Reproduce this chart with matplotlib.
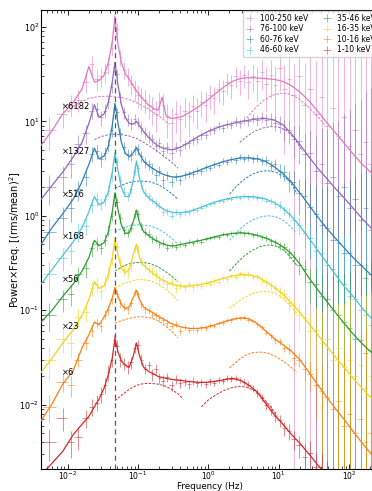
import numpy as np
import matplotlib
matplotlib.use('Agg')
import matplotlib.pyplot as plt

# ---------------- data ----------------
bands = ['100-250 keV', '76-100 keV', '60-76 keV', '46-60 keV',
         '35-46 keV', '16-35 keV', '10-16 keV', '1-10 keV']
factors = [6182, 1327, 516, 168, 56, 23, 6, 1]
colors = ['#e377c2', '#9467bd', '#2f7fb8', '#4fc3dc',
          '#2ca02c', '#f2d418', '#ff7f0e', '#d62728']
qpo_freq = 0.047

data_freq = [0.0055, 0.0085, 0.011, 0.014, 0.018, 0.022, 0.026, 0.030, 0.034, 0.038,
             0.042, 0.046, 0.050, 0.056, 0.063, 0.071, 0.080, 0.090, 0.100, 0.112,
             0.126, 0.142, 0.160, 0.180, 0.200, 0.230, 0.260, 0.300, 0.350, 0.400,
             0.460, 0.530, 0.610, 0.700, 0.800, 0.920, 1.06, 1.22, 1.40, 1.60,
             1.85, 2.10, 2.45, 2.80, 3.20, 3.70, 4.30, 5.00, 5.80, 6.70,
             7.70, 8.90, 10.3, 12.0, 14.0, 16.5, 19.5, 23.5, 28, 34,
             41, 49, 59, 71, 85, 102, 122, 147, 176, 205]

model_freq = [0.0042, 0.006, 0.0085, 0.012, 0.016, 0.02, 0.024, 0.028, 0.033, 0.038,
              0.043, 0.047, 0.052, 0.058, 0.066, 0.075, 0.085, 0.095, 0.105, 0.12,
              0.14, 0.17, 0.195, 0.22, 0.25, 0.29, 0.33, 0.42, 0.55, 0.72,
              0.95, 1.25, 1.65, 2.2, 2.9, 3.8, 5.0, 6.6, 8.7, 11.5,
              15, 20, 27, 36, 48, 64, 85, 115, 155, 215, 300]

# plotted (already multiplied by the factor) values
pink_data = [8, 12, 15, 17, 26, 40, 28, 30, 33, 40,
             60, 120, 95, 48, 35, 30, 25, 22, 19, 18,
             17, 15, 13.5, 12, 16, 15, 11, 9.5, 12, 10.5,
             13, 11.5, 14.5, 13, 16, 15, 19, 17.5, 22, 21,
             26, 24, 30, 27, 31, 26, 30, 27, 33, 25,
             31, 24, 37, 22, 28, 19, 30, 15, 22, 12,
             18, 9, 14, 7, 11, 5.5, 8, 4.5, 6, 3.5]
pink_err = [3, 3.5, 4, 4.5, 6, 9, 7, 7, 7.5, 8.5,
            11, 18, 15, 9, 7, 6.5, 6, 5.5, 5, 4.8,
            4.6, 4.5, 4.4, 4.3, 4.4, 4.4, 4.3, 4.3, 4.4, 4.4,
            4.5, 4.6, 4.7, 4.8, 5, 5.2, 5.4, 5.6, 5.9, 6.2,
            6.5, 6.9, 7.3, 7.8, 8.3, 8.9, 9.6, 10.4, 11.3, 12.3,
            13.4, 14.6, 16, 17.5, 19, 21, 23, 26, 29, 32,
            36, 40, 45, 50, 56, 62, 70, 78, 87, 97]
purple_data = [2.0, 2.6, 3.5, 5.8, 7.5, 13, 13.5, 11, 13, 16,
               23, 38, 32, 18, 12.5, 10.5, 9.5, 10.5, 9.8, 8.5,
               7.6, 6.9, 6.5, 5.5, 5.9, 4.9, 5.3, 4.6, 5.4, 5.0,
               5.7, 5.9, 6.3, 6.5, 7.1, 7.2, 8.0, 8.1, 8.9, 8.6,
               9.4, 9.2, 10.0, 9.6, 10.4, 10.0, 10.8, 10.3, 11.2, 10.4,
               10.6, 9.6, 9.4, 8.3, 8.0, 6.5, 6.2, 4.5, 4.6, 3.0,
               3.5, 2.2, 2.6, 1.6, 2.0, 1.2, 1.5, 0.9, 1.2, 0.7]
purple_err = [0.7, 0.8, 1.0, 1.4, 1.7, 2.5, 2.5, 2.0, 2.2, 2.5,
              3, 4.5, 4, 2.5, 1.8, 1.5, 1.4, 1.4, 1.3, 1.2,
              1.05, 0.95, 0.9, 0.8, 0.78, 0.72, 0.7, 0.68, 0.67, 0.66,
              0.66, 0.66, 0.67, 0.68, 0.7, 0.72, 0.75, 0.78, 0.82, 0.86,
              0.9, 0.95, 1.0, 1.05, 1.1, 1.17, 1.25, 1.33, 1.42, 1.52,
              1.63, 1.75, 1.9, 2.05, 2.2, 2.4, 2.65, 2.9, 3.3, 4.0,
              5, 6, 7, 8.5, 10, 12, 14, 16, 19, 22]
blue_data = [0.68, 0.95, 1.2, 1.9, 2.6, 4.5, 4.8, 4.0, 4.6, 5.6,
             8.0, 14, 12.5, 7.5, 5.3, 4.5, 4.4, 5.0, 5.1, 4.3,
             3.7, 3.5, 3.2, 2.7, 3.0, 2.4, 2.7, 2.3, 2.6, 2.4,
             2.7, 2.75, 2.8, 3.0, 2.95, 3.25, 3.2, 3.5, 3.45, 3.8,
             3.7, 4.0, 3.85, 4.2, 4.0, 4.15, 3.95, 4.1, 3.8, 3.85,
             3.4, 3.5, 3.0, 2.9, 2.4, 2.3, 1.75, 1.6, 1.25, 1.05,
             0.8, 0.75, 0.55, 0.52, 0.4, 0.4, 0.3, 0.3, 0.22, 0.24]
blue_err = [0.25, 0.3, 0.35, 0.45, 0.55, 0.8, 0.8, 0.7, 0.75, 0.85,
            1.1, 1.6, 1.5, 1.0, 0.75, 0.6, 0.6, 0.65, 0.65, 0.55,
            0.48, 0.43, 0.4, 0.36, 0.34, 0.31, 0.3, 0.28, 0.27, 0.26,
            0.25, 0.25, 0.25, 0.25, 0.25, 0.25, 0.25, 0.26, 0.26, 0.27,
            0.28, 0.29, 0.3, 0.31, 0.32, 0.33, 0.35, 0.37, 0.39, 0.41,
            0.44, 0.47, 0.5, 0.55, 0.6, 0.65, 0.72, 0.8, 0.9, 1.0,
            1.15, 1.3, 1.45, 1.6, 1.8, 2.0, 2.2, 2.5, 2.8, 3.1]
cyan_data = [0.24, 0.36, 0.42, 0.68, 0.78, 1.3, 1.5, 1.35, 1.5, 1.85,
             2.6, 4.3, 3.8, 2.4, 1.8, 1.6, 1.9, 3.0, 3.2, 2.1,
             1.75, 1.6, 1.45, 1.35, 1.28, 1.1, 1.12, 1.0, 1.1, 1.04,
             1.1, 1.09, 1.16, 1.15, 1.22, 1.27, 1.33, 1.36, 1.45, 1.45,
             1.52, 1.5, 1.58, 1.55, 1.62, 1.57, 1.6, 1.55, 1.53, 1.45,
             1.43, 1.33, 1.3, 1.15, 1.08, 0.9, 0.8, 0.65, 0.58, 0.42,
             0.4, 0.3, 0.27, 0.2, 0.19, 0.14, 0.13, 0.1, 0.09, 0.07]
cyan_err = [0.08, 0.1, 0.11, 0.15, 0.16, 0.22, 0.24, 0.2, 0.22, 0.25,
            0.3, 0.4, 0.38, 0.28, 0.2, 0.18, 0.2, 0.28, 0.3, 0.2,
            0.17, 0.15, 0.13, 0.12, 0.11, 0.1, 0.09, 0.085, 0.08, 0.075,
            0.07, 0.07, 0.07, 0.07, 0.07, 0.07, 0.07, 0.07, 0.07, 0.072,
            0.073, 0.075, 0.077, 0.08, 0.082, 0.085, 0.088, 0.092, 0.096, 0.1,
            0.105, 0.11, 0.12, 0.13, 0.14, 0.155, 0.17, 0.19, 0.21, 0.24,
            0.27, 0.3, 0.34, 0.38, 0.43, 0.48, 0.54, 0.6, 0.68, 0.75]
green_data = [0.09, 0.13, 0.15, 0.24, 0.28, 0.45, 0.5, 0.46, 0.56, 0.7,
              1.0, 1.6, 1.4, 0.95, 0.7, 0.66, 0.75, 1.05, 1.05, 0.78,
              0.68, 0.64, 0.57, 0.56, 0.5, 0.52, 0.46, 0.49, 0.47, 0.5,
              0.49, 0.53, 0.51, 0.55, 0.53, 0.57, 0.58, 0.6, 0.6, 0.64,
              0.63, 0.66, 0.65, 0.67, 0.65, 0.66, 0.62, 0.63, 0.59, 0.58,
              0.54, 0.53, 0.48, 0.47, 0.4, 0.37, 0.3, 0.27, 0.2, 0.19,
              0.14, 0.13, 0.1, 0.09, 0.075, 0.065, 0.05, 0.048, 0.035, 0.038]
green_err = [0.03, 0.035, 0.04, 0.05, 0.06, 0.08, 0.08, 0.07, 0.08, 0.09,
             0.12, 0.16, 0.15, 0.11, 0.08, 0.07, 0.08, 0.1, 0.1, 0.08,
             0.07, 0.06, 0.055, 0.05, 0.045, 0.045, 0.04, 0.04, 0.035, 0.035,
             0.033, 0.032, 0.031, 0.03, 0.03, 0.03, 0.03, 0.03, 0.03, 0.03,
             0.03, 0.031, 0.031, 0.032, 0.033, 0.034, 0.035, 0.036, 0.037, 0.038,
             0.04, 0.042, 0.045, 0.048, 0.052, 0.057, 0.063, 0.07, 0.08, 0.09,
             0.1, 0.12, 0.13, 0.15, 0.17, 0.19, 0.21, 0.24, 0.27, 0.3]
yellow_data = [0.03, 0.05, 0.045, 0.085, 0.095, 0.17, 0.19, 0.16, 0.2, 0.25,
               0.35, 0.52, 0.47, 0.32, 0.27, 0.25, 0.3, 0.45, 0.44, 0.33,
               0.3, 0.27, 0.26, 0.24, 0.21, 0.21, 0.19, 0.2, 0.17, 0.185,
               0.175, 0.19, 0.176, 0.185, 0.18, 0.196, 0.19, 0.205, 0.2, 0.22,
               0.215, 0.235, 0.225, 0.245, 0.235, 0.242, 0.225, 0.23, 0.205, 0.2,
               0.18, 0.17, 0.155, 0.148, 0.12, 0.113, 0.088, 0.083, 0.06, 0.062,
               0.045, 0.05, 0.03, 0.04, 0.025, 0.03, 0.02, 0.026, 0.015, 0.02]
yellow_err = [0.012, 0.015, 0.014, 0.02, 0.02, 0.03, 0.035, 0.03, 0.035, 0.04,
              0.05, 0.06, 0.06, 0.045, 0.04, 0.035, 0.04, 0.05, 0.05, 0.04,
              0.035, 0.03, 0.03, 0.027, 0.025, 0.023, 0.021, 0.02, 0.018, 0.017,
              0.016, 0.015, 0.015, 0.014, 0.014, 0.014, 0.014, 0.014, 0.014, 0.014,
              0.014, 0.015, 0.015, 0.015, 0.015, 0.016, 0.016, 0.017, 0.017, 0.018,
              0.018, 0.019, 0.02, 0.021, 0.023, 0.025, 0.028, 0.032, 0.037, 0.043,
              0.05, 0.06, 0.07, 0.08, 0.09, 0.1, 0.11, 0.12, 0.13, 0.14]
orange_data = [0.0095, 0.0175, 0.016, 0.03, 0.045, 0.06, 0.074, 0.068, 0.09, 0.1,
               0.13, 0.165, 0.15, 0.118, 0.108, 0.102, 0.118, 0.155, 0.148, 0.115,
               0.103, 0.1, 0.09, 0.089, 0.082, 0.079, 0.074, 0.068, 0.071, 0.06,
               0.066, 0.062, 0.065, 0.062, 0.066, 0.064, 0.069, 0.068, 0.073, 0.074,
               0.079, 0.078, 0.083, 0.082, 0.085, 0.079, 0.077, 0.071, 0.066, 0.058,
               0.054, 0.048, 0.047, 0.04, 0.039, 0.031, 0.03, 0.024, 0.021, 0.016,
               0.014, 0.012, 0.009, 0.011, 0.006, 0.008, 0.005, 0.007, 0.004, 0.005]
orange_err = [0.003, 0.004, 0.004, 0.005, 0.007, 0.008, 0.009, 0.009, 0.01, 0.011,
              0.013, 0.015, 0.014, 0.012, 0.011, 0.01, 0.011, 0.013, 0.013, 0.01,
              0.009, 0.008, 0.008, 0.007, 0.007, 0.006, 0.006, 0.0055, 0.005, 0.005,
              0.005, 0.0045, 0.0045, 0.004, 0.004, 0.004, 0.004, 0.004, 0.004, 0.004,
              0.004, 0.004, 0.004, 0.004, 0.004, 0.004, 0.004, 0.004, 0.004, 0.004,
              0.004, 0.004, 0.004, 0.004, 0.0045, 0.005, 0.005, 0.006, 0.007, 0.009,
              0.012, 0.016, 0.02, 0.025, 0.03, 0.036, 0.043, 0.05, 0.06, 0.07]
red_data = [0.004, 0.0073, 0.004, 0.0045, 0.0072, 0.0095, 0.0105, 0.013, 0.016, 0.022,
            0.03, 0.048, 0.042, 0.03, 0.027, 0.025, 0.028, 0.04, 0.043, 0.03,
            0.024, 0.026, 0.021, 0.024, 0.019, 0.018, 0.0195, 0.016, 0.0185, 0.017,
            0.0175, 0.0165, 0.018, 0.0168, 0.0172, 0.0165, 0.0178, 0.017, 0.0182, 0.0178,
            0.019, 0.0188, 0.0192, 0.0183, 0.0175, 0.0163, 0.0148, 0.0133, 0.0118, 0.0098,
            0.0088, 0.0076, 0.0068, 0.0056, 0.0052, 0.0043, 0.0037, 0.0028, 0.0031, 0.0022,
            0.0021, 0.0016, 0.0012, 0.001, 0.0009, 0.0008, 0.0007, 0.0006, 0.0005, 0.0004]
red_err = [0.0015, 0.002, 0.0013, 0.0012, 0.0015, 0.002, 0.002, 0.0025, 0.003, 0.004,
           0.005, 0.006, 0.006, 0.005, 0.004, 0.004, 0.004, 0.005, 0.005, 0.004,
           0.003, 0.003, 0.003, 0.003, 0.0025, 0.0025, 0.0022, 0.002, 0.002, 0.002,
           0.0018, 0.0017, 0.0017, 0.0016, 0.0015, 0.0015, 0.0015, 0.0014, 0.0014, 0.0014,
           0.0014, 0.0014, 0.0014, 0.0013, 0.0013, 0.0013, 0.0012, 0.0012, 0.0011, 0.0011,
           0.001, 0.001, 0.001, 0.001, 0.001, 0.001, 0.001, 0.001, 0.001, 0.0009,
           0.0009, 0.0009, 0.001, 0.001, 0.001, 0.001, 0.001, 0.001, 0.001, 0.001]

pink_model = [5.6, 8.0, 12, 16, 22, 38, 26, 27, 31, 42,
              70, 128, 65, 42, 32, 28, 24, 21, 19, 17,
              15, 13.5, 13.2, 18, 11.5, 10.8, 10.8, 11.2, 12.5, 14.2,
              16.5, 19.5, 23, 26.5, 28.5, 29, 28.8, 28.3, 27.8, 26.5,
              24, 20.5, 16.5, 12.8, 9.8, 7.6, 5.9, 4.5, 3.5, 2.8, 2.05]
purple_model = [1.5, 2.1, 2.9, 4.2, 6.0, 9.5, 15, 11, 12, 16,
                26, 42, 24, 15, 11, 9.5, 9.3, 10, 9, 7.8,
                6.8, 5.9, 5.5, 5.25, 5.1, 5.0, 5.05, 5.4, 6.1, 6.9,
                7.7, 8.4, 9.0, 9.5, 9.9, 10.3, 10.6, 10.7, 10.3, 9.2,
                7.5, 5.7, 4.2, 3.2, 2.5, 1.95, 1.55, 1.2, 0.93, 0.72, 0.55]
blue_model = [0.5, 0.75, 1.05, 1.5, 2.3, 3.5, 5.2, 4.0, 4.3, 5.5,
              9.0, 15.5, 9.5, 6.0, 4.6, 4.2, 4.6, 5.3, 4.5, 3.8,
              3.4, 3.1, 2.9, 2.78, 2.68, 2.6, 2.57, 2.62, 2.8, 3.0,
              3.25, 3.5, 3.75, 3.95, 4.1, 4.1, 4.0, 3.75, 3.3, 2.8,
              2.3, 1.75, 1.3, 0.97, 0.74, 0.58, 0.46, 0.36, 0.29, 0.23, 0.18]
cyan_model = [0.19, 0.27, 0.38, 0.53, 0.75, 1.1, 1.6, 1.3, 1.4, 1.8,
              2.9, 4.6, 3.0, 2.0, 1.6, 1.6, 2.3, 3.8, 2.5, 1.8,
              1.55, 1.4, 1.28, 1.2, 1.14, 1.1, 1.08, 1.08, 1.12, 1.2,
              1.3, 1.4, 1.48, 1.55, 1.59, 1.6, 1.57, 1.5, 1.38, 1.2,
              1.0, 0.78, 0.58, 0.43, 0.32, 0.24, 0.18, 0.14, 0.105, 0.08, 0.06]
green_model = [0.075, 0.1, 0.14, 0.19, 0.26, 0.36, 0.55, 0.48, 0.52, 0.68,
               1.1, 1.75, 1.15, 0.8, 0.65, 0.66, 0.85, 1.15, 0.85, 0.68,
               0.62, 0.56, 0.53, 0.51, 0.49, 0.48, 0.48, 0.5, 0.52, 0.54,
               0.57, 0.6, 0.63, 0.65, 0.66, 0.65, 0.62, 0.58, 0.53, 0.47,
               0.4, 0.31, 0.22, 0.165, 0.125, 0.095, 0.073, 0.056, 0.044, 0.035, 0.027]
yellow_model = [0.022, 0.031, 0.045, 0.062, 0.088, 0.13, 0.2, 0.17, 0.18, 0.24,
                0.36, 0.56, 0.38, 0.28, 0.25, 0.27, 0.38, 0.5, 0.36, 0.3,
                0.27, 0.24, 0.222, 0.21, 0.2, 0.19, 0.185, 0.18, 0.18, 0.185,
                0.193, 0.205, 0.218, 0.23, 0.238, 0.237, 0.225, 0.2, 0.175, 0.148,
                0.12, 0.095, 0.072, 0.055, 0.042, 0.032, 0.025, 0.019, 0.0148, 0.0115, 0.009]
orange_model = [0.0068, 0.0102, 0.0165, 0.023, 0.04, 0.055, 0.075, 0.07, 0.085, 0.105,
                0.135, 0.172, 0.14, 0.115, 0.104, 0.108, 0.135, 0.163, 0.13, 0.108,
                0.1, 0.092, 0.086, 0.082, 0.078, 0.073, 0.07, 0.066, 0.064, 0.064,
                0.066, 0.07, 0.075, 0.08, 0.083, 0.081, 0.072, 0.06, 0.05, 0.043,
                0.037, 0.03, 0.022, 0.0162, 0.0121, 0.0091, 0.007, 0.0052, 0.0039, 0.0029, 0.0021]
red_model = [0.0018, 0.0024, 0.0032, 0.0048, 0.0062, 0.0075, 0.0095, 0.0115, 0.015, 0.021,
             0.031, 0.05, 0.036, 0.029, 0.026, 0.025, 0.032, 0.045, 0.033, 0.025,
             0.0225, 0.021, 0.0198, 0.0194, 0.019, 0.0186, 0.0183, 0.018, 0.0175, 0.0172,
             0.0172, 0.0176, 0.0183, 0.019, 0.018, 0.016, 0.0135, 0.0102, 0.0078, 0.0062,
             0.0049, 0.0039, 0.003, 0.0023, 0.0018, 0.0014, 0.0011, 0.0008, 0.0006, 0.00045, 0.00033]

# broad components (dashed)
pink_c1_freq = [0.01, 0.014, 0.02, 0.028, 0.04, 0.055, 0.075, 0.1, 0.14, 0.2, 0.28]
pink_c1 = [12.5, 15.5, 17.5, 18.3, 18.5, 18, 17, 15.5, 13.5, 11.3, 9.3]
pink_c2_freq = [3.5, 4.5, 6, 8, 10.5, 14, 19, 25, 33, 45]
pink_c2 = [10.8, 13.5, 16.5, 18.8, 19.8, 19.5, 17.5, 14.8, 12, 9.3]
purple_c1_freq = [0.024, 0.03, 0.038, 0.047, 0.06, 0.075, 0.095, 0.12, 0.15, 0.19, 0.24, 0.3, 0.37]
purple_c1 = [6.4, 6.9, 7.2, 7.3, 7.2, 7.0, 6.6, 6.0, 5.4, 4.8, 4.2, 3.7, 3.2]
purple_c2_freq = [2.8, 3.6, 4.6, 6, 7.7, 10, 13, 17, 22]
purple_c2 = [6.0, 7.0, 7.9, 8.5, 8.8, 8.7, 8.0, 6.5, 4.8]
mid_c1_freq = [0.047, 0.06, 0.075, 0.095, 0.12, 0.15, 0.19, 0.24, 0.3, 0.37]
mid_c2_freq = [2.0, 2.6, 3.3, 4.2, 5.4, 7.0, 9.0, 11.5, 14.5, 18]
blue_c1 = [1.95, 2.12, 2.25, 2.32, 2.33, 2.28, 2.15, 1.95, 1.72, 1.5]
blue_c2 = [1.7, 2.1, 2.45, 2.75, 2.95, 3.0, 2.9, 2.65, 2.3, 1.75]
cyan_c1 = [0.68, 0.74, 0.78, 0.8, 0.8, 0.78, 0.73, 0.66, 0.58, 0.5]
cyan_c2 = [0.55, 0.68, 0.8, 0.9, 0.97, 1.0, 0.98, 0.9, 0.78, 0.65]
green_c1 = [0.26, 0.29, 0.31, 0.32, 0.32, 0.31, 0.29, 0.26, 0.23, 0.2]
green_c2 = [0.26, 0.32, 0.38, 0.43, 0.47, 0.49, 0.48, 0.44, 0.37, 0.3]
yellow_c1 = [0.17, 0.19, 0.2, 0.21, 0.21, 0.205, 0.19, 0.17, 0.148, 0.127]
yellow_c2 = [0.105, 0.122, 0.137, 0.15, 0.157, 0.158, 0.15, 0.135, 0.113, 0.093]
orange_c1 = [0.073, 0.078, 0.082, 0.085, 0.085, 0.083, 0.078, 0.069, 0.06, 0.051]
orange_c2 = [0.0245, 0.029, 0.033, 0.0355, 0.036, 0.0352, 0.0325, 0.029, 0.0255, 0.022]
red_c1_freq = [0.047, 0.06, 0.075, 0.095, 0.12, 0.15, 0.19, 0.24, 0.3, 0.37, 0.43]
red_c1 = [0.011, 0.0128, 0.0145, 0.016, 0.0167, 0.0168, 0.0165, 0.0158, 0.0145, 0.013, 0.0117]
red_c2_freq = [0.8, 1.0, 1.3, 1.7, 2.2, 2.8, 3.5, 4.5, 5.8, 7.5, 9.5]
red_c2 = [0.0095, 0.0112, 0.0128, 0.0142, 0.0152, 0.0156, 0.0153, 0.0142, 0.0122, 0.0097, 0.0076]

series_data = [pink_data, purple_data, blue_data, cyan_data, green_data, yellow_data, orange_data, red_data]
series_err = [pink_err, purple_err, blue_err, cyan_err, green_err, yellow_err, orange_err, red_err]
series_model = [pink_model, purple_model, blue_model, cyan_model, green_model, yellow_model, orange_model, red_model]
comp1 = [(pink_c1_freq, pink_c1), (purple_c1_freq, purple_c1), (mid_c1_freq, blue_c1), (mid_c1_freq, cyan_c1),
         (mid_c1_freq, green_c1), (mid_c1_freq, yellow_c1), (mid_c1_freq, orange_c1), (red_c1_freq, red_c1)]
comp2 = [(pink_c2_freq, pink_c2), (purple_c2_freq, purple_c2), (mid_c2_freq, blue_c2), (mid_c2_freq, cyan_c2),
         (mid_c2_freq, green_c2), (mid_c2_freq, yellow_c2), (mid_c2_freq, orange_c2), (red_c2_freq, red_c2)]

# ---------------- figure ----------------
W, H = 372, 491
fig = plt.figure(figsize=(W / 100, H / 100), dpi=100)
ax_left, ax_right, ax_top, ax_bottom = 41, 394, 10, 469
ax = fig.add_axes([ax_left / W, 1 - ax_bottom / H, (ax_right - ax_left) / W, (ax_bottom - ax_top) / H])
ax.set_xscale('log')
ax.set_yscale('log')
ax.set_xlim(0.00417, 438)
ax.set_ylim(0.00208, 151)

f = np.array(data_freq)
edges = np.sqrt(f[1:] * f[:-1])
lo = np.concatenate([[f[0] ** 2 / edges[0]], edges])
hi = np.concatenate([edges, [f[-1] ** 2 / edges[-1]]])
xerr = np.vstack([f - lo, hi - f])

handles = []
for i in range(len(bands)):
    c = colors[i]
    eb = ax.errorbar(f, series_data[i], yerr=series_err[i], xerr=xerr, fmt='none',
                     ecolor=c, elinewidth=0.7, alpha=0.55, label=bands[i], zorder=2)
    handles.append(eb)
    ax.plot(model_freq, series_model[i], color=c, lw=0.9, zorder=3)
    for cf, cv in (comp1[i], comp2[i]):
        ax.plot(cf, cv, color=c, lw=0.7, ls=(0, (2.5, 1.5)), zorder=3)

ax.axvline(qpo_freq, color='0.35', lw=0.9, ls=(0, (4, 3)), zorder=4)

label_y = [0.789, 0.691, 0.598, 0.5065, 0.413, 0.311, 0.211]
for k in range(7):
    ax.text(0.0595, label_y[k], '\u00d7%d' % factors[k], transform=ax.transAxes,
            fontsize=6, va='center', ha='left', zorder=5)

ax.tick_params(which='both', direction='in', top=True, right=True)
ax.tick_params(axis='x', which='both', pad=0.2, labelsize=5.5)
ax.tick_params(axis='y', which='both', pad=1.2, labelsize=5.8)
ax.tick_params(which='major', length=3.5, width=0.6)
ax.tick_params(which='minor', length=2, width=0.5)
for s in ax.spines.values():
    s.set_linewidth(0.8)
ax.set_xlabel('Frequency (Hz)', fontsize=6.3, va='bottom')
ax.set_ylabel('Power$\\times$Freq. [(rms/mean)$^2$]', fontsize=7)
ax.xaxis.set_label_coords((210 - ax_left) / (ax_right - ax_left), (ax_bottom - 490.8) / (ax_bottom - ax_top))
ax.yaxis.set_label_coords(-0.052, 0.5)

leg = ax.legend(handles=handles, labels=bands, ncol=2, fontsize=5.5, loc='upper left',
                bbox_to_anchor=((242 - ax_left) / (ax_right - ax_left), 1.0), borderaxespad=0.1,
                handlelength=1.0, handletextpad=0.8, columnspacing=2.0, labelspacing=0.2)

fig.savefig('out.png', dpi=100)
